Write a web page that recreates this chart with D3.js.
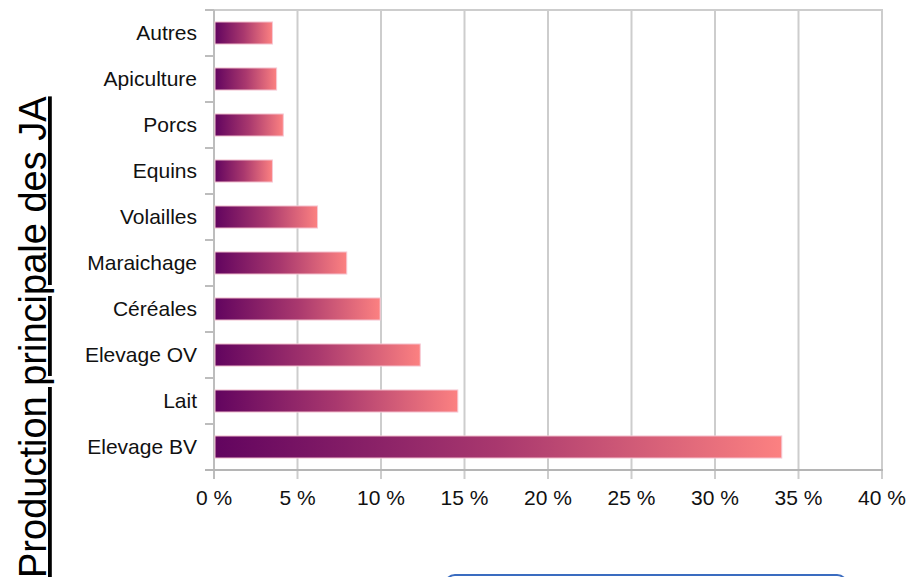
<!DOCTYPE html>
<html>
<head>
<meta charset="utf-8">
<script src="https://cdn.jsdelivr.net/npm/d3@7"></script>
<style>
  body { margin: 0; background: #fff; }
  svg { display: block; font-family: "Liberation Sans", Arial, sans-serif; }
</style>
</head>
<body>
<svg width="912" height="577"></svg>
<script>
var width = 912;
var height = 577;

// top to bottom, as in the picture
var categories = ['Autres', 'Apiculture', 'Porcs', 'Equins', 'Volailles', 'Maraichage', 'Céréales', 'Elevage OV', 'Lait', 'Elevage BV'];
var shares = [3.5, 3.75, 4.15, 3.5, 6.2, 7.95, 9.95, 12.35, 14.6, 34.0];
var xTicks = [0, 5, 10, 15, 20, 25, 30, 35, 40];
var yTitle = 'Production principale des JA';

var plotLeft = 214, plotRight = 882, plotTop = 10, plotBottom = 470;

var svg = d3.select('svg');

var x = d3.scaleLinear().domain([0, 40]).range([plotLeft, plotRight]);
var y = d3.scaleBand().domain(categories).range([plotTop, plotBottom]).paddingInner(0.52).paddingOuter(0.26);

var grad = svg.append('defs').append('linearGradient')
    .attr('id', 'barfill')
    .attr('x1', 0).attr('y1', 0).attr('x2', 1).attr('y2', 0);
grad.append('stop').attr('offset', '0%').attr('stop-color', '#62045f');
grad.append('stop').attr('offset', '50%').attr('stop-color', '#a9386e');
grad.append('stop').attr('offset', '100%').attr('stop-color', '#fc8181');

// vertical grid lines, running down into the tick marks
svg.append('g')
    .selectAll('line')
    .data(xTicks.slice(1))
    .enter()
    .append('line')
    .attr('x1', d => x(d)).attr('x2', d => x(d))
    .attr('y1', plotTop).attr('y2', plotBottom + 9)
    .style('stroke', '#cdcdcd')
    .style('stroke-width', '2px');

// top border
svg.append('line')
    .attr('x1', plotLeft).attr('x2', plotRight + 1)
    .attr('y1', plotTop).attr('y2', plotTop)
    .style('stroke', '#cdcdcd').style('stroke-width', '2px');

// left axis line with category ticks
svg.append('line')
    .attr('x1', plotLeft).attr('x2', plotLeft)
    .attr('y1', plotTop).attr('y2', plotBottom + 9)
    .style('stroke', '#bdbdbd').style('stroke-width', '2px');

var step = y.step();
svg.append('g')
    .selectAll('line')
    .data(d3.range(categories.length))
    .enter()
    .append('line')
    .attr('x1', plotLeft - 9).attr('x2', plotLeft)
    .attr('y1', i => plotTop + i * step).attr('y2', i => plotTop + i * step)
    .style('stroke', '#bdbdbd').style('stroke-width', '2px');

// bottom axis line
svg.append('line')
    .attr('x1', plotLeft - 9).attr('x2', plotRight + 1)
    .attr('y1', plotBottom).attr('y2', plotBottom)
    .style('stroke', '#b5b5b5').style('stroke-width', '2px');

// bars
svg.append('g')
    .selectAll('rect')
    .data(categories)
    .enter()
    .append('rect')
    .attr('x', x(0) + 1)
    .attr('y', d => y(d))
    .attr('width', (d, i) => x(shares[i]) - x(0) - 1)
    .attr('height', y.bandwidth())
    .style('fill', 'url(#barfill)')
    .style('stroke', '#f6c8d4')
    .style('stroke-width', '1px');

// category labels
svg.append('g')
    .selectAll('text')
    .data(categories)
    .enter()
    .append('text')
    .attr('x', plotLeft - 17)
    .attr('y', d => y(d) + y.bandwidth() / 2)
    .attr('dy', '0.35em')
    .attr('text-anchor', 'end')
    .style('font-size', '21px')
    .style('fill', '#111')
    .text(d => d);

// x tick labels
svg.append('g')
    .selectAll('text')
    .data(xTicks)
    .enter()
    .append('text')
    .attr('x', d => x(d))
    .attr('y', 505)
    .attr('text-anchor', 'middle')
    .style('font-size', '21px')
    .style('fill', '#111')
    .text(d => d + ' %');

// rotated, underlined title
svg.append('text')
    .attr('transform', 'translate(46,' + (height + 1) + ') rotate(-90)')
    .attr('text-anchor', 'start')
    .style('font-size', '38px')
    .style('fill', '#000')
    .style('text-decoration', 'underline')
    .text(yTitle);

// edge of the blue box that starts below the chart
svg.append('rect')
    .attr('x', 445).attr('y', 575)
    .attr('width', 402).attr('height', 30)
    .attr('rx', 10)
    .style('fill', 'none')
    .style('stroke', '#3a6cc0')
    .style('stroke-width', '2px');
</script>
</body>
</html>
